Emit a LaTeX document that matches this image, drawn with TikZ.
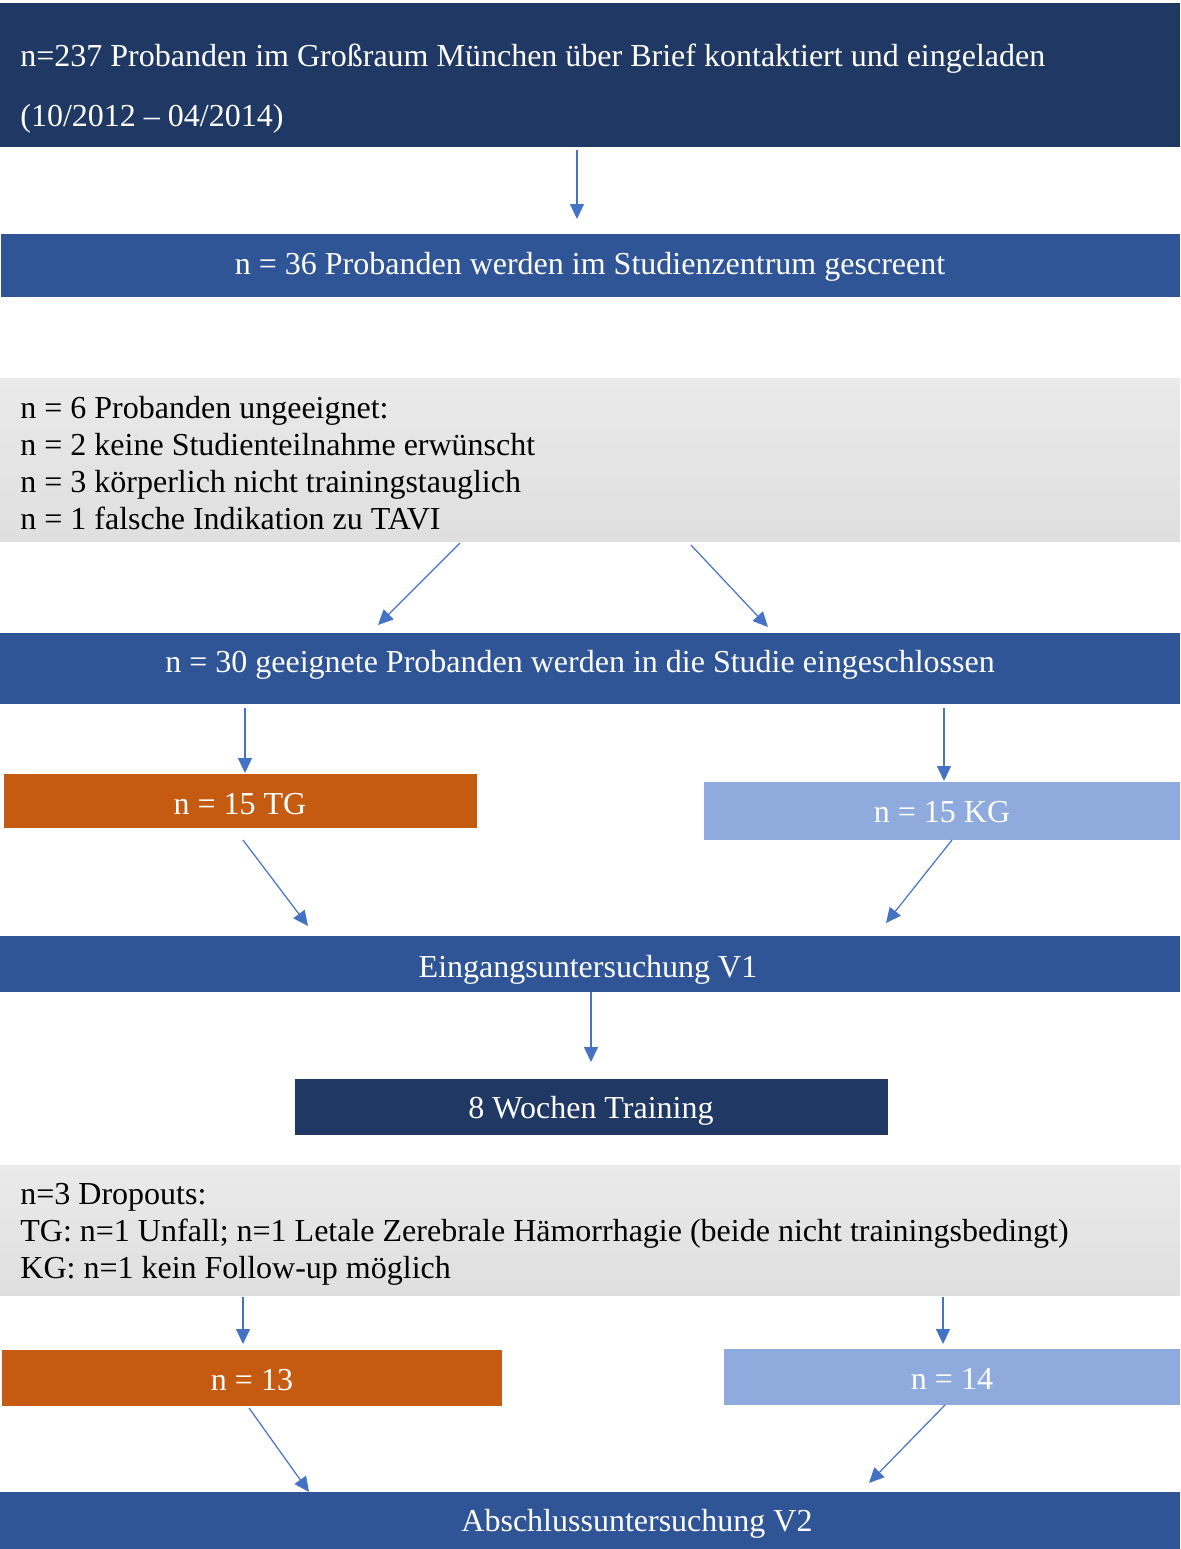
\documentclass[tikz,border=0pt]{standalone}
\usepackage{fontspec}
\setmainfont{Liberation Serif}
\usetikzlibrary{arrows.meta,shadings}
\definecolor{navy}{HTML}{203864}
\definecolor{midblue}{HTML}{2F5597}
\definecolor{orangeb}{HTML}{C55A11}
\definecolor{lightb}{HTML}{8FAADC}
\definecolor{arrowblue}{HTML}{4472C4}
\definecolor{grayT}{HTML}{EAEAEA}
\definecolor{grayB}{HTML}{DFDFDF}
\begin{document}
\begin{tikzpicture}[x=0.5pt,y=-0.5pt,
  bar/.style={rectangle, inner sep=0pt, outer sep=0pt, draw=none},
  graybar/.style={bar, top color=grayT, bottom color=grayB},
  wtxt/.style={text=white, inner sep=0pt, font=\fontsize{16}{18.5}\selectfont, anchor=base},
  btxt/.style={text=black, inner sep=0pt, font=\fontsize{16}{18.5}\selectfont, anchor=base west, align=left},
  arr/.style={draw=arrowblue, line width=0.6pt, -{Triangle[length=7.5pt,width=7pt]}}]
\useasboundingbox (0,0) rectangle (1180,1549);

% boxes
\node[bar, fill=navy, minimum width=590pt, minimum height=72pt] (b1) at (590,75) {};
\node[bar, fill=midblue, minimum width=589.5pt, minimum height=31.5pt] (b2) at (590.5,265.5) {};
\node[graybar, minimum width=590pt, minimum height=81.5pt] (g1) at (590,459.5) {};
\node[bar, fill=midblue, minimum width=590pt, minimum height=35.5pt] (b30) at (590,668.5) {};
\node[bar, fill=orangeb, minimum width=236.5pt, minimum height=27pt] (tg) at (240.5,801) {};
\node[bar, fill=lightb, minimum width=238pt, minimum height=29pt] (kg) at (942,811) {};
\node[bar, fill=midblue, minimum width=590pt, minimum height=28pt] (v1) at (590,964) {};
\node[bar, fill=navy, minimum width=296.5pt, minimum height=28pt] (tr) at (591.5,1107) {};
\node[graybar, minimum width=590pt, minimum height=65pt] (g2) at (590,1230) {};
\node[bar, fill=orangeb, minimum width=250pt, minimum height=28pt] (n13) at (252,1378) {};
\node[bar, fill=lightb, minimum width=228pt, minimum height=28pt] (n14) at (952,1377) {};
\node[bar, fill=midblue, minimum width=590pt, minimum height=28.5pt] (v2) at (590,1520.5) {};

% texts (multi-line nodes: base anchor = last line's baseline)
\node[btxt, text=white, font=\fontsize{16}{30}\selectfont] (t1) at (20,126)
  {n=237 Probanden im Großraum München über Brief kontaktiert und eingeladen\\(10/2012 – 04/2014)};
\node[wtxt] (t2) at (590,274) {n = 36 Probanden werden im Studienzentrum gescreent};
\node[btxt] (t3) at (20,529) {n = 6 Probanden ungeeignet:\\n = 2 keine Studienteilnahme erwünscht\\n = 3 körperlich nicht trainingstauglich\\n = 1 falsche Indikation zu TAVI};
\node[wtxt] (t4) at (580,672) {n = 30 geeignete Probanden werden in die Studie eingeschlossen};
\node[wtxt] (t5) at (240,814) {n = 15 TG};
\node[wtxt] (t6) at (942,822) {n = 15 KG};
\node[wtxt] (t7) at (588,977) {Eingangsuntersuchung V1};
\node[wtxt] (t8) at (591,1118) {8 Wochen Training};
\node[btxt] (t9) at (20,1278) {n=3 Dropouts:\\TG: n=1 Unfall; n=1 Letale Zerebrale Hämorrhagie (beide nicht trainingsbedingt)\\KG: n=1 kein Follow-up möglich};
\node[wtxt] (t10) at (252,1390) {n = 13};
\node[wtxt] (t11) at (952,1389) {n = 14};
\node[wtxt] (t12) at (637,1531) {Abschlussuntersuchung V2};

% arrows
\draw[arr, shorten <=1.5pt, shorten >=7.5pt] (577,0 |- b1.south) -- (577,0 |- b2.north);
\draw[arr, shorten <=1.4pt, shorten >=5.7pt] (462,0 |- g1.south) -- (370,0 |- b30.north);
\draw[arr, shorten <=2.7pt, shorten >=4.1pt] (687.2,0 |- g1.south) -- (773.6,0 |- b30.north);
\draw[arr, shorten <=2pt, shorten >=0.5pt] (245,0 |- b30.south) -- (245,0 |- tg.north);
\draw[arr, shorten <=2pt, shorten >=0.5pt] (944,0 |- b30.south) -- (944,0 |- kg.north);
\draw[arr, shorten <=7.5pt, shorten >=6.3pt] (233.9,0 |- tg.south) -- (315.6,0 |- v1.north);
\draw[arr, shorten >=8.3pt] (952,0 |- kg.south) -- (875.7,0 |- v1.north);
\draw[arr, shorten >=8.5pt] (591,0 |- v1.south) -- (591,0 |- tr.north);
\draw[arr, shorten <=1pt, shorten >=3pt] (243,0 |- g2.south) -- (243,0 |- n13.north);
\draw[arr, shorten <=1pt, shorten >=2.5pt] (943,0 |- g2.south) -- (943,0 |- n14.north);
\draw[arr, shorten <=1.2pt] (247.6,0 |- n13.south) -- (309,0 |- v2.north);
\draw[arr, shorten >=6.3pt] (945,0 |- n14.south) -- (860.2,0 |- v2.north);
\end{tikzpicture}
\end{document}
